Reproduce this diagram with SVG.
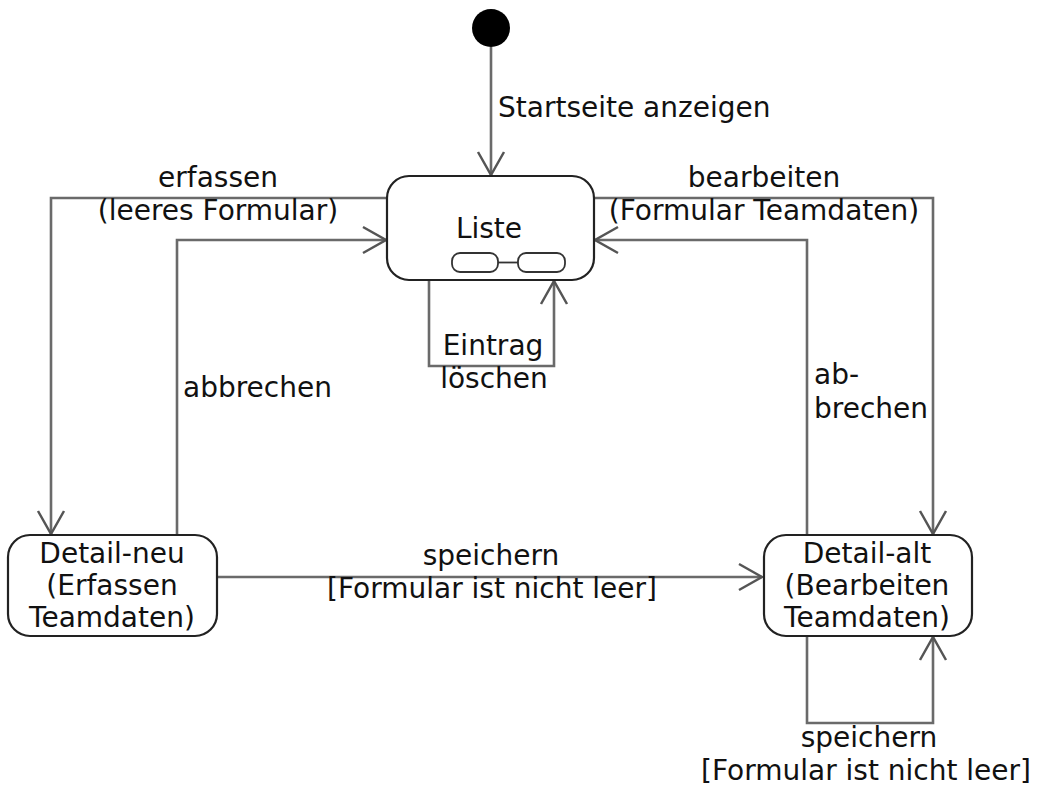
<svg xmlns="http://www.w3.org/2000/svg" width="1038" height="786" viewBox="0 0 1038 786">
<defs>
<style>
.t{font-family:"DejaVu Sans","Liberation Sans",sans-serif;font-size:28px;fill:#111}
.c{text-anchor:middle}
.e{fill:none;stroke:#6a6a6a;stroke-width:2.6}
.n{fill:#fff;stroke:#222;stroke-width:2.2}
</style>
<marker id="ah" markerUnits="userSpaceOnUse" markerWidth="30" markerHeight="32" viewBox="-26 -16 30 32" refX="0" refY="0" orient="auto" overflow="visible">
<path d="M-23,-13 L0,0 L-23,13" fill="none" stroke="#555" stroke-width="2.5"/>
</marker>
</defs>
<rect width="1038" height="786" fill="#fff"/>
<g id="connectors">
<path class="e" d="M491,47 L491,175" marker-end="url(#ah)"/>
<path class="e" d="M387,198 L51,198 L51,534" marker-end="url(#ah)"/>
<path class="e" d="M177,535 L177,240 L386,240" marker-end="url(#ah)"/>
<path class="e" d="M429,280 L429,366 L554,366 L554,281" marker-end="url(#ah)"/>
<path class="e" d="M594,198 L933,198 L933,534" marker-end="url(#ah)"/>
<path class="e" d="M807,535 L807,240 L595,240" marker-end="url(#ah)"/>
<path class="e" d="M217,577 L762,577" marker-end="url(#ah)"/>
<path class="e" d="M807,636 L807,723 L933,723 L933,637" marker-end="url(#ah)"/>
<text class="t" x="498" y="117">Startseite anzeigen</text>
<text class="t c" x="218" y="187">erfassen</text>
<text class="t c" x="218" y="220">(leeres Formular)</text>
<text class="t c" x="764" y="187">bearbeiten</text>
<text class="t c" x="764" y="220">(Formular Teamdaten)</text>
<text class="t c" x="493" y="355">Eintrag</text>
<text class="t c" x="494" y="388">löschen</text>
<text class="t" x="183" y="397">abbrechen</text>
<text class="t" x="814" y="384">ab-</text>
<text class="t" x="814" y="418">brechen</text>
<text class="t c" x="491" y="565">speichern</text>
<text class="t c" x="492" y="598">[Formular ist nicht leer]</text>
<text class="t c" x="869" y="747">speichern</text>
<text class="t c" x="866" y="780">[Formular ist nicht leer]</text>
</g>
<g id="start">
<circle cx="491" cy="28" r="19" fill="#000"/>
</g>
<g id="liste">
<rect class="n" x="387" y="176" width="207" height="104" rx="22"/>
<text class="t c" x="489" y="238">Liste</text>
<rect x="452" y="253" width="46" height="19" rx="8" fill="#fff" stroke="#333" stroke-width="1.8"/>
<rect x="518" y="253" width="47" height="19" rx="8" fill="#fff" stroke="#333" stroke-width="1.8"/>
<line x1="498" y1="262.5" x2="518" y2="262.5" stroke="#333" stroke-width="1.8"/>
</g>
<g id="detail-neu">
<rect class="n" x="8" y="535" width="209" height="101" rx="22"/>
<text class="t c" x="112" y="563">Detail-neu</text>
<text class="t c" x="112" y="595">(Erfassen</text>
<text class="t c" x="112" y="627">Teamdaten)</text>
</g>
<g id="detail-alt">
<rect class="n" x="764" y="535" width="208" height="101" rx="22"/>
<text class="t c" x="867" y="563">Detail-alt</text>
<text class="t c" x="867" y="595">(Bearbeiten</text>
<text class="t c" x="867" y="627">Teamdaten)</text>
</g>
</svg>
